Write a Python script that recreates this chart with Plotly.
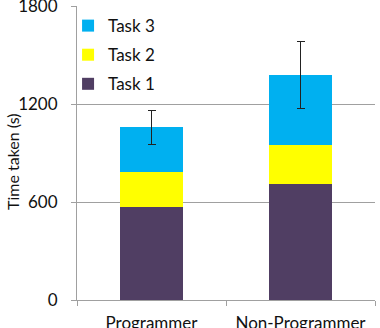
import plotly.graph_objects as go

categories = ["Programmer", "Non-Programmer"]
task1 = [570, 710]
task2 = [212, 243]
task3 = [277, 425]
task3_err = [105, 206]
y_ticks = [0, 600, 1200, 1800]

FONT = "Lato"
fig = go.Figure()
fig.add_trace(go.Bar(x=categories, y=task1, name="Task 1", marker_color="#503E63",
                     marker_line_width=0, legendgroup="g1", legendrank=3))
fig.add_trace(go.Bar(x=categories, y=task2, name="Task 2", marker_color="#FFFF00",
                     marker_line_width=0, legendgroup="g2", legendrank=2))
fig.add_trace(go.Bar(x=categories, y=task3, name="Task 3", marker_color="#00B0F0",
                     marker_line_width=0, legendgroup="g3", legendrank=1,
                     error_y=dict(type="data", array=task3_err, color="#222222",
                                  thickness=1, width=4)))

fig.update_layout(
    width=380, height=328,
    margin=dict(l=77, r=5, t=6, b=28),
    barmode="stack", bargap=0.58,
    plot_bgcolor="white", paper_bgcolor="white",
    font=dict(family=FONT, size=17, color="#111111"),
    showlegend=True,
    legend=dict(x=-0.03, y=0.993, xanchor="left", yanchor="top",
                traceorder="grouped", tracegroupgap=4,
                font=dict(size=17), bgcolor="rgba(0,0,0,0)",
                itemwidth=30),
    xaxis=dict(showline=True, linecolor="#A0A0A0", linewidth=1,
               ticks="outside", tickson="boundaries", ticklen=5,
               tickcolor="#A0A0A0", showgrid=False, ticklabelstandoff=8,
               automargin=False),
    yaxis=dict(range=[0, 1802], tickvals=y_ticks, showline=True,
               linecolor="#A0A0A0", linewidth=1, ticks="outside", ticklen=5,
               tickcolor="#A0A0A0", gridcolor="#A0A0A0", gridwidth=1,
               zeroline=False, ticklabelstandoff=10, automargin=False,
               ticklabeloverflow="allow"),
    annotations=[dict(text="Time taken (s)", textangle=-90, showarrow=False,
                      xref="paper", yref="paper", x=-64 / 298, y=(300 - 162) / 294,
                      xanchor="center", yanchor="middle",
                      font=dict(size=16, family=FONT, color="#111111"))],
)

fig.write_html("out.html")
